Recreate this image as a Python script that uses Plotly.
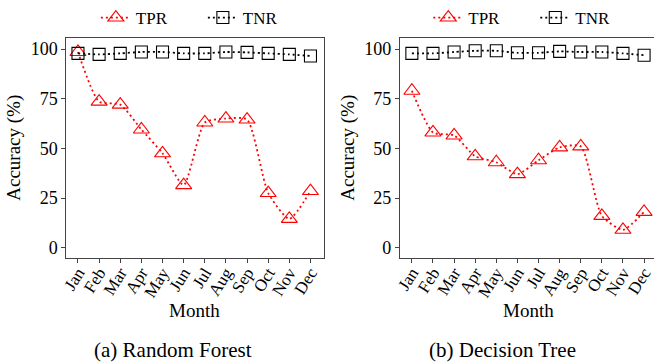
import plotly.graph_objects as go

months = ["Jan", "Feb", "Mar", "Apr", "May", "Jun", "Jul", "Aug", "Sep", "Oct", "Nov", "Dec"]
rf_tpr = [98.5, 73.5, 72, 59.5, 47.5, 31.5, 63, 65, 64.5, 27.5, 14.5, 28.5]
rf_tnr = [97.8, 97.3, 97.8, 98.5, 98.5, 97.8, 97.8, 98.5, 98.3, 97.8, 97.3, 96.5]
dt_tpr = [79, 58, 56.5, 46, 43, 37, 44, 50.5, 51, 16, 9, 18]
dt_tnr = [97.8, 97.8, 98.5, 99.1, 99.1, 98.1, 98.1, 98.8, 98.5, 98.5, 97.8, 96.9]
captions = ["(a) Random Forest", "(b) Decision Tree"]
x_title = "Month"
y_title = "Accuracy (%)"

FONT = "Liberation Serif, Times New Roman, serif"
xi = list(range(len(months)))

fig = go.Figure()

def add_pair(tpr, tnr, xa, ya, leg):
    fig.add_trace(go.Scatter(
        x=xi, y=tpr, mode="lines+markers", name="TPR", xaxis=xa, yaxis=ya, legend=leg,
        line=dict(color="red", width=1.8, dash="2px,3px", shape="spline", smoothing=0.6),
        marker=dict(symbol="triangle-up-open", size=14, color="red", line=dict(width=1.1, color="red")),
    ))
    fig.add_trace(go.Scatter(
        x=xi, y=tnr, mode="lines+markers", name="TNR", xaxis=xa, yaxis=ya, legend=leg,
        line=dict(color="black", width=1.8, dash="2px,3px", shape="spline", smoothing=0.6),
        marker=dict(symbol="square-open", size=12, color="black", line=dict(width=1.1, color="black")),
    ))

add_pair(rf_tpr, rf_tnr, "x", "y", "legend")
add_pair(dt_tpr, dt_tnr, "x2", "y2", "legend2")

W, H = 655, 364
ydom = [1 - 258 / H, 1 - 37.5 / H]
axis_common = dict(
    showgrid=False, zeroline=False, showline=True, linecolor="#444", linewidth=1.2,
    ticks="outside", ticklen=4, tickcolor="#444", tickwidth=1,
    tickfont=dict(family=FONT, size=18, color="black"),
)
xcommon = dict(axis_common, tickmode="array", tickvals=xi, ticktext=months, tickangle=-58,
               ticklabeloverflow="allow", ticklabelstandoff=-7,
               tickfont=dict(family=FONT, size=17, color="black"))
ycommon = dict(axis_common, range=[-5.2, 105.8], tickvals=[0, 25, 50, 75, 100],
               title=dict(text=y_title, font=dict(family=FONT, size=19, color="black"), standoff=4))

fig.update_layout(
    width=W, height=H, margin=dict(l=0, r=0, t=0, b=0),
    paper_bgcolor="white", plot_bgcolor="white",
    font=dict(family=FONT, color="black"),
    xaxis=dict(xcommon, domain=[61 / W, 321 / W], range=[-0.55, 11.62], mirror=True, anchor="y"),
    yaxis=dict(ycommon, domain=ydom, mirror=True, anchor="x"),
    xaxis2=dict(xcommon, domain=[398.3 / W, 1.0], range=[-0.56, 11.47], mirror=True, anchor="y2"),
    yaxis2=dict(ycommon, domain=ydom, mirror=False, anchor="x2"),
    legend=dict(orientation="h", x=199 / W, xanchor="center", y=1.0, yanchor="top",
                font=dict(family=FONT, size=17), entrywidth=62, bgcolor="rgba(0,0,0,0)"),
    legend2=dict(orientation="h", x=535 / W, xanchor="center", y=1.0, yanchor="top",
                 font=dict(family=FONT, size=17), entrywidth=62, bgcolor="rgba(0,0,0,0)"),
    showlegend=True,
)

for cx in [191 / W, 528 / W]:
    fig.add_annotation(text=x_title, x=cx, y=1 - 310 / H, xref="paper", yref="paper",
                       xanchor="center", yanchor="middle", showarrow=False,
                       font=dict(family=FONT, size=19, color="black"))

for cx, cap in zip([168.5 / W, 502 / W], captions):
    fig.add_annotation(text=cap, x=cx, y=1 - 350 / H, xref="paper", yref="paper",
                       xanchor="center", yanchor="middle", showarrow=False,
                       font=dict(family=FONT, size=21, color="black"))

fig.write_html("out.html")
